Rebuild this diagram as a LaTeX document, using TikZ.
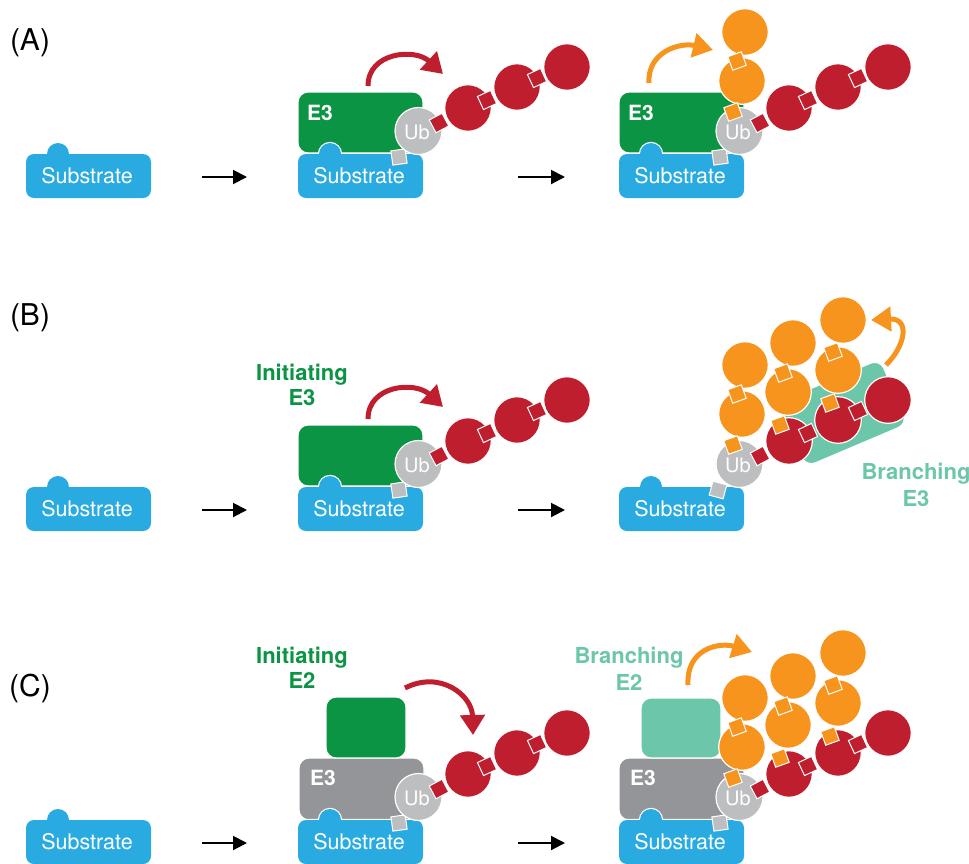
\documentclass[tikz,border=0pt]{standalone}
\usepackage{fontspec}
\setmainfont{TeX Gyre Heros}
\usetikzlibrary{arrows.meta}
\definecolor{cblue}{HTML}{29ABE2}
\definecolor{cgreen}{HTML}{0A9444}
\definecolor{cred}{HTML}{BE1E2D}
\definecolor{corange}{HTML}{F7941D}
\definecolor{cub}{HTML}{BCBEC0}
\definecolor{cgray}{HTML}{939598}
\definecolor{cteal}{HTML}{6CC6A9}

\newcommand\SubBox[1]{%
  \fill[white,rounded corners=9.2] ({#1-1.2},152.8) rectangle ({#1+126.2},199.2);
  \fill[white] ({#1+32},154) circle[radius=12.2];
  \fill[cblue,rounded corners=8] (#1,154) rectangle ({#1+125},198);
  \fill[cblue] ({#1+32},154) circle[radius=11];}
\newcommand\Ball[3]{\filldraw[fill=#3,draw=white,line width=1.2] (#1,#2) circle[radius=23.3];}
\newcommand\Lnk[4]{\filldraw[fill=#4,draw=white,line width=1,rotate around={#3:(#1,#2)}] ({#1-7.2},{#2-7.2}) rectangle ({#1+7.2},{#2+7.2});}
\newcommand\UbBall[3]{%
  \filldraw[fill=cub,draw=white,line width=1.2] (#1,#2) circle[radius=23.5];
  \node[ubtxt] (#3) at ({#1-1.5},{#2+1.5}) {Ub};}
\newcommand\RedBalls{\Ball{468}{108}{cred}\Ball{517}{87}{cred}\Ball{567}{67}{cred}}
\newcommand\RedLinks{\Lnk{439}{123}{-28}{cred}\Lnk{487}{100}{-25}{cred}\Lnk{537}{78}{-25}{cred}}
\newcommand\OrBallsA{\Ball{421}{81}{corange}\Ball{424}{32}{corange}}
\newcommand\OrLinksA{\Lnk{412}{112}{-20}{corange}\Lnk{416}{61}{-20}{corange}}
\newcommand\OrBallsB{\Ball{467}{59}{corange}\Ball{472}{10}{corange}\Ball{517}{37}{corange}\Ball{522}{-13}{corange}}
\newcommand\OrLinksB{\Lnk{459}{92}{-20}{corange}\Lnk{462}{40}{-20}{corange}\Lnk{509}{70}{-20}{corange}\Lnk{512}{19}{-20}{corange}}

\begin{document}
\begin{tikzpicture}[yscale=-1,x=1pt,y=1pt,
  subtxt/.style={text=white,font=\fontsize{21.5}{25}\selectfont,inner sep=0pt},
  ubtxt/.style={text=white,font=\fontsize{20}{24}\selectfont,inner sep=0pt},
  e3txt/.style={text=white,font=\bfseries\fontsize{21}{24}\selectfont,anchor=west,inner sep=0pt},
  lbl/.style={font=\fontsize{30}{36}\selectfont,inner sep=0pt},
  glbl/.style={text=cgreen,font=\bfseries\fontsize{22}{25.5}\selectfont,align=center,inner sep=0pt},
  tlbl/.style={text=cteal,font=\bfseries\fontsize{22}{26.5}\selectfont,align=center,inner sep=0pt},
  blk/.style={line width=2,-{Triangle[length=14pt,width=14pt]}},
  redarr/.style={cred,line width=5,-{Triangle[length=20pt,width=24pt]}},
  orarr/.style={corange,line width=5,-{Triangle[length=20pt,width=24pt]}},
  enz/.style={draw=white,line width=1.2,rounded corners=10}]
\useasboundingbox (0,0) rectangle (969,863);

% ================= Panel A =================
\node[lbl] (labA) at (30,43) {(A)};
\SubBox{26}\node[subtxt] (sA0) at (87,176) {Substrate};
\coordinate (kA1) at (202,177); \coordinate (kA2) at (247,177);
\draw[blk] (kA1) -- (kA2);
\coordinate (kA3) at (518,177); \coordinate (kA4) at (565,177);
\draw[blk] (kA3) -- (kA4);
% middle
\filldraw[fill=cgreen,enz] (298,92) rectangle (423,153);
\node[e3txt] (eA1) at (307,113) {E3};
\SubBox{298}\node[subtxt] (sA1) at (359,176) {Substrate};
\Lnk{399}{157}{-8}{cub}
\UbBall{418.5}{131}{uA1}
\RedBalls\RedLinks
\coordinate (rA1) at (368,86); \coordinate (rA2) at (443,74);
\draw[redarr] (rA1) .. controls (368,52) and (415,48) .. (rA2);
% right
\begin{scope}[shift={(321,0)}]
\filldraw[fill=cgreen,enz] (298,92) rectangle (423,153);
\node[e3txt] (eA2) at (307,113) {E3};
\SubBox{298}\node[subtxt] (sA2) at (359,176) {Substrate};
\Lnk{399}{157}{-8}{cub}
\UbBall{418.5}{131}{uA2}
\RedBalls\OrBallsA\RedLinks\OrLinksA
\end{scope}
\coordinate (oA1) at (649,83); \coordinate (oA2) at (713,50);
\draw[orarr] (oA1) .. controls (647,52) and (680,42) .. (oA2);

% ================= Panel B =================
\node[lbl] (labB) at (30,318) {(B)};
\node[glbl] (iniB) at (302,385) {Initiating\\E3};
\node[tlbl] (brB) at (916,485) {Branching\\E3};
\begin{scope}[shift={(0,333)}]
\SubBox{26}\node[subtxt] (sB0) at (87,176) {Substrate};
\coordinate (kB1) at (202,177); \coordinate (kB2) at (247,177);
\draw[blk] (kB1) -- (kB2);
\coordinate (kB3) at (518,177); \coordinate (kB4) at (565,177);
\draw[blk] (kB3) -- (kB4);
\filldraw[fill=cgreen,enz] (298,92) rectangle (423,153);
\SubBox{298}\node[subtxt] (sB1) at (359,176) {Substrate};
\Lnk{399}{157}{-8}{cub}
\UbBall{418.5}{131}{uB1}
\RedBalls\RedLinks
\coordinate (rB1) at (368,86); \coordinate (rB2) at (443,74);
\draw[redarr] (rB1) .. controls (368,52) and (415,48) .. (rB2);
\end{scope}
\begin{scope}[shift={(321,333)}]
\SubBox{298}\node[subtxt] (sB2) at (359,176) {Substrate};
\Lnk{397}{157}{15}{cub}
\UbBall{418.5}{131}{uB2}
\filldraw[fill=cteal,draw=white,line width=1,rounded corners=10,rotate around={-23:(522,80)}] (467,45) rectangle (577,115);
\RedBalls\OrBallsA\OrBallsB\RedLinks\OrLinksA\OrLinksB
\end{scope}
\coordinate (oB1) at (886,365); \coordinate (oB2) at (871,320);
\draw[orarr] (oB1) .. controls (906,345) and (910,318) .. (oB2);

% ================= Panel C =================
\node[lbl] (labC) at (30,688) {(C)};
\node[glbl] (iniC) at (302,668) {Initiating\\E2};
\node[tlbl] (brC) at (629,669) {Branching\\E2};
\begin{scope}[shift={(0,666)}]
\SubBox{26}\node[subtxt] (sC0) at (87,176) {Substrate};
\coordinate (kC1) at (202,177); \coordinate (kC2) at (247,177);
\draw[blk] (kC1) -- (kC2);
\coordinate (kC3) at (518,177); \coordinate (kC4) at (565,177);
\draw[blk] (kC3) -- (kC4);
\filldraw[fill=cgray,enz] (299,92) rectangle (424,154);
\node[e3txt] (eC1) at (310,112) {E3};
\filldraw[fill=cgreen,enz] (326,31) rectangle (406,92);
\SubBox{298}\node[subtxt] (sC1) at (359,176) {Substrate};
\Lnk{399}{157}{-8}{cub}
\UbBall{418.5}{131}{uC1}
\RedBalls\RedLinks
\end{scope}
\coordinate (rC1) at (405,688); \coordinate (rC2) at (473,735);
\draw[redarr] (rC1) .. controls (440,670) and (472,695) .. (rC2);
\begin{scope}[shift={(321,666)}]
\filldraw[fill=cgray,enz] (298,92) rectangle (423,154);
\node[e3txt] (eC2) at (309,112) {E3};
\filldraw[fill=cteal,enz] (320,32) rectangle (400,92);
\SubBox{298}\node[subtxt] (sC2) at (359,176) {Substrate};
\Lnk{399}{157}{-8}{cub}
\UbBall{418.5}{131}{uC2}
\RedBalls\OrBallsA\OrBallsB\RedLinks\OrLinksA\OrLinksB
\end{scope}
\coordinate (oC1) at (688,685); \coordinate (oC2) at (752,652);
\draw[orarr] (oC1) .. controls (686,648) and (720,642) .. (oC2);
\end{tikzpicture}
\end{document}
